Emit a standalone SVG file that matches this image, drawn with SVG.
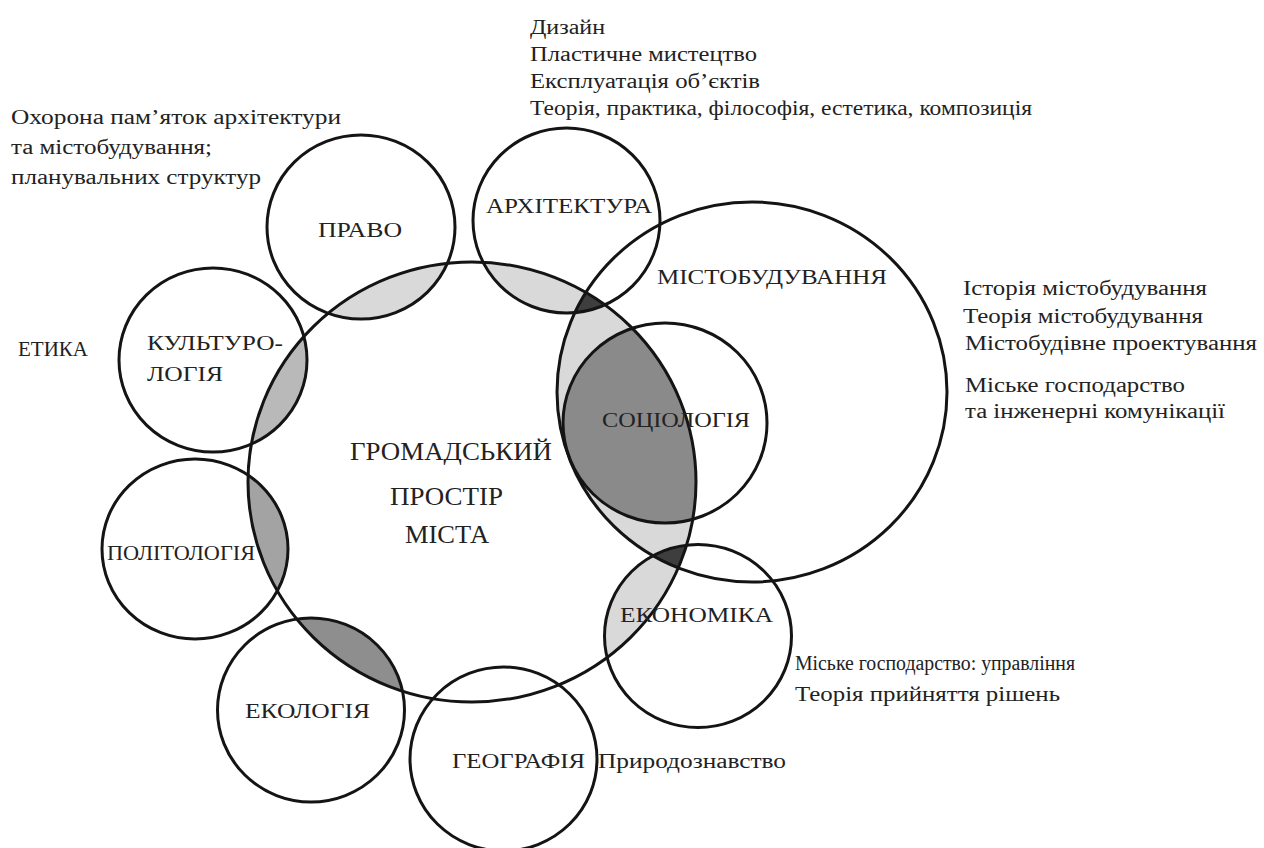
<svg xmlns="http://www.w3.org/2000/svg" width="1264" height="848" viewBox="0 0 1264 848">
<style>
.c{fill:none;stroke:#141414;stroke-width:3}
text{font-family:'Liberation Serif','DejaVu Serif',serif;fill:#222222;font-weight:normal}
.lbl{font-size:22px}
.big{font-size:26px}
.note{font-size:20px}
.lt{fill:#d9d9d9}
.dk{fill:#3e3e3e}
</style>
<defs>
<clipPath id="cMain"><ellipse cx="472" cy="482" rx="224" ry="220"/></clipPath>
<clipPath id="cMisto"><ellipse cx="752" cy="392" rx="195" ry="190"/></clipPath>
</defs>
<rect width="1264" height="848" fill="#ffffff"/>

<g id="overlaps">
<g clip-path="url(#cMain)">
<ellipse class="lt" cx="361" cy="227" rx="94" ry="92"/>
<ellipse class="lt" cx="566.5" cy="220.5" rx="93.5" ry="92.5"/>
<ellipse class="lt" cx="752" cy="392" rx="195" ry="190"/>
<ellipse class="lt" cx="698" cy="636" rx="93.5" ry="91.5"/>
<ellipse fill="#b9b9b9" cx="213" cy="360" rx="94" ry="92"/>
<ellipse fill="#a3a3a3" cx="195" cy="549" rx="93" ry="90"/>
<ellipse fill="#8e8e8e" cx="311" cy="710" rx="93.5" ry="92"/>
<ellipse fill="#8a8a8a" cx="665" cy="423" rx="102" ry="100"/>
<g clip-path="url(#cMisto)">
<ellipse class="dk" cx="566.5" cy="220.5" rx="93.5" ry="92.5"/>
<ellipse class="dk" cx="698" cy="636" rx="93.5" ry="91.5"/>
</g>
</g>
</g>

<g id="main">
<ellipse class="c" cx="472" cy="482" rx="224" ry="220"/>
<text class="big" font-family="Liberation Serif, serif" x="350" y="460" textLength="202" lengthAdjust="spacingAndGlyphs">ГРОМАДСЬКИЙ</text>
<text class="big" font-family="Liberation Serif, serif" x="390" y="505" textLength="113" lengthAdjust="spacingAndGlyphs">ПРОСТІР</text>
<text class="big" font-family="Liberation Serif, serif" x="405" y="543" textLength="84" lengthAdjust="spacingAndGlyphs">МІСТА</text>
</g>

<g id="pravo">
<ellipse class="c" cx="361" cy="227" rx="94" ry="92"/>
<text class="lbl" x="318" y="237" textLength="84" lengthAdjust="spacingAndGlyphs">ПРАВО</text>
<text class="note" x="11" y="124" textLength="330" lengthAdjust="spacingAndGlyphs">Охорона пам’яток  архітектури</text>
<text class="note" x="11" y="154" textLength="201" lengthAdjust="spacingAndGlyphs">та містобудування;</text>
<text class="note" x="11" y="184" textLength="250" lengthAdjust="spacingAndGlyphs">планувальних структур</text>
</g>

<g id="arkhitektura">
<ellipse class="c" cx="566.5" cy="220.5" rx="93.5" ry="92.5"/>
<text class="lbl" x="486" y="213" textLength="166" lengthAdjust="spacingAndGlyphs">АРХІТЕКТУРА</text>
<text class="note" x="530" y="34" textLength="75" lengthAdjust="spacingAndGlyphs">Дизайн</text>
<text class="note" x="530" y="61" textLength="227" lengthAdjust="spacingAndGlyphs">Пластичне мистецтво</text>
<text class="note" x="530" y="88" textLength="230" lengthAdjust="spacingAndGlyphs">Експлуатація об’єктів</text>
<text class="note" x="530" y="115" textLength="502" lengthAdjust="spacingAndGlyphs">Теорія, практика, філософія, естетика, композиція</text>
</g>

<g id="mistobuduvannia">
<ellipse class="c" cx="752" cy="392" rx="195" ry="190"/>
<text class="lbl" x="657" y="284" textLength="230" lengthAdjust="spacingAndGlyphs">МІСТОБУДУВАННЯ</text>
<text class="note" x="963" y="295" textLength="244" lengthAdjust="spacingAndGlyphs">Історія містобудування</text>
<text class="note" x="963" y="323" textLength="240" lengthAdjust="spacingAndGlyphs">Теорія містобудування</text>
<text class="note" x="965" y="350" textLength="292" lengthAdjust="spacingAndGlyphs">Містобудівне проектування</text>
<text class="note" x="965" y="392" textLength="220" lengthAdjust="spacingAndGlyphs">Міське господарство</text>
<text class="note" x="965" y="418" textLength="260" lengthAdjust="spacingAndGlyphs">та інженерні комунікації</text>
</g>

<g id="sotsiolohiia">
<ellipse class="c" cx="665" cy="423" rx="102" ry="100"/>
<text class="lbl" x="602" y="427" textLength="148" lengthAdjust="spacingAndGlyphs">СОЦІОЛОГІЯ</text>
</g>

<g id="ekonomika">
<ellipse class="c" cx="698" cy="636" rx="93.5" ry="91.5"/>
<text class="lbl" x="620" y="622" textLength="153" lengthAdjust="spacingAndGlyphs">ЕКОНОМІКА</text>
<text class="note" x="795" y="670" textLength="280" lengthAdjust="spacingAndGlyphs">Міське господарство: управління</text>
<text class="note" x="795" y="701" textLength="265" lengthAdjust="spacingAndGlyphs">Теорія прийняття рішень</text>
</g>

<g id="heohrafiia">
<ellipse class="c" cx="503.5" cy="759" rx="93.5" ry="92"/>
<text class="lbl" x="452" y="768" textLength="133" lengthAdjust="spacingAndGlyphs">ГЕОГРАФІЯ</text>
<text class="note" x="598" y="768" textLength="188" lengthAdjust="spacingAndGlyphs">Природознавство</text>
</g>

<g id="ekolohiia">
<ellipse class="c" cx="311" cy="710" rx="93.5" ry="92"/>
<text class="lbl" x="245" y="718" textLength="125" lengthAdjust="spacingAndGlyphs">ЕКОЛОГІЯ</text>
</g>

<g id="politolohiia">
<ellipse class="c" cx="195" cy="549" rx="93" ry="90"/>
<text class="lbl" x="107" y="560" textLength="148" lengthAdjust="spacingAndGlyphs">ПОЛІТОЛОГІЯ</text>
</g>

<g id="kulturolohiia">
<ellipse class="c" cx="213" cy="360" rx="94" ry="92"/>
<text class="lbl" x="147" y="350" textLength="136" lengthAdjust="spacingAndGlyphs">КУЛЬТУРО-</text>
<text class="lbl" x="147" y="381" textLength="76" lengthAdjust="spacingAndGlyphs">ЛОГІЯ</text>
</g>

<g id="etyka">
<text class="lbl" x="18" y="356" textLength="70" lengthAdjust="spacingAndGlyphs">ЕТИКА</text>
</g>
</svg>
